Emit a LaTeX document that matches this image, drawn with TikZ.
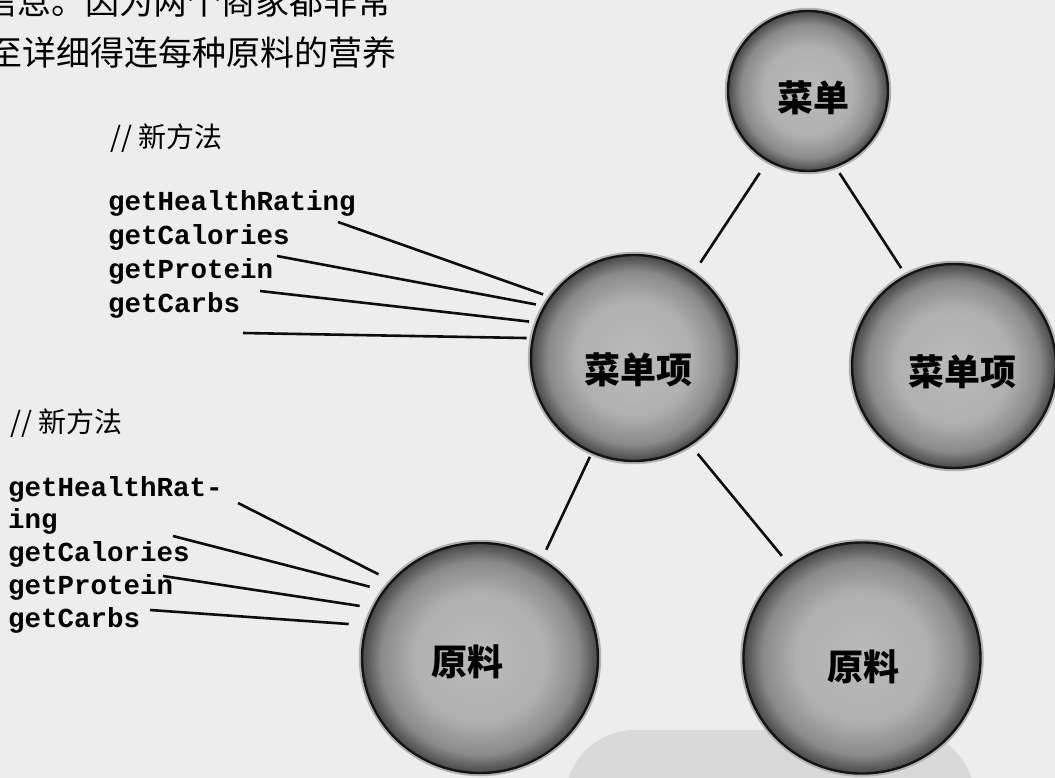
\documentclass[tikz,border=0pt]{standalone}
\usepackage{fontspec}
\setmonofont{Liberation Mono}
\newfontfamily\cjk{Noto Sans CJK SC}
\usetikzlibrary{positioning,shapes.geometric}
\pgfdeclareradialshading{ballgray}{\pgfpoint{0bp}{0bp}}{%
  color(0bp)=(black!27); color(14bp)=(black!31); color(21bp)=(black!46);
  color(25bp)=(black!72); color(50bp)=(black!72)}

\begin{document}
\begin{tikzpicture}[x=1pt,y=-1pt]
  \tikzstyle{ball}=[circle,draw=black!92,line width=2.4pt,shading=ballgray,preaction={draw=black!30,line width=6.5pt},inner sep=0pt]
  \tikzstyle{egg}=[ball,ellipse]
  \tikzstyle{lbl}=[font=\cjk\bfseries\fontsize{36}{36}\selectfont,inner sep=0pt]
  \tikzstyle{meth}=[font=\ttfamily\bfseries\fontsize{27.5}{33}\selectfont,inner sep=0pt,text height=18pt,text depth=6pt]
  \tikzstyle{note}=[font=\cjk\fontsize{28}{28}\selectfont,inner sep=0pt,anchor=west]
  \tikzstyle{prose}=[font=\cjk\fontsize{34}{34}\selectfont,inner sep=0pt,anchor=east]
  \tikzstyle{link}=[line width=2.6pt,black!95]
  \useasboundingbox (0,0) rectangle (1055,778);
  \clip (0,0) rectangle (1055,778);
  \fill[black!7] (0,0) rectangle (1055,778);
  % shadow under the right ingredient
  \fill[black!15,rounded corners=70pt] (565,730) rectangle (975,860);

  % text running in from the page
  \node[prose] (txt1) at (392,1) {信息。因为两个商家都非常};
  \node[prose] (txt2) at (397,53) {甚至详细得连每种原料的营养};

  % the tree
  \node[ball,minimum size=160pt,label={[lbl,xshift=5pt,yshift=-7pt]center:菜单}] (menu) at (808,91) {};
  \node[ball,minimum size=206pt,label={[lbl,xshift=4pt,yshift=-12pt]center:菜单项}] (itemL) at (634,358) {};
  \node[ball,minimum size=204pt,label={[lbl,xshift=8pt,yshift=-6pt]center:菜单项}] (itemR) at (954,366) {};
  \node[egg,minimum width=236pt,minimum height=230pt,label={[lbl,xshift=-13pt,yshift=-4pt]center:原料}] (ingL) at (480,658) {};
  \node[egg,minimum width=237pt,minimum height=231pt,label={[lbl,xshift=1pt,yshift=-9pt]center:原料}] (ingR) at (862,658) {};
  \draw[link,shorten <=14pt,shorten >=12pt] (menu.240) -- (itemL.55);
  \draw[link,shorten <=7pt,shorten >=8pt] (menu.290) -- (itemR.118);
  \draw[link,shorten <=4pt,shorten >=10pt] (itemL.246) -- (ingL.58);
  \draw[link,shorten <=11pt,shorten >=12pt] (itemL.303) -- (ingR.128);

  % new methods on the menu item
  \node[note] (newA) at (110,138) {// 新方法};
  \node[meth,anchor=west] (hrA) at (108,205) {getHealthRating};
  \node[meth,below right=9.5pt and 0pt of hrA.south west] (calA) {getCalories};
  \node[meth,below right=9.5pt and 0pt of calA.south west] (protA) {getProtein};
  \node[meth,below right=9.5pt and 0pt of protA.south west] (carbA) {getCarbs};
  \coordinate (hrAend) at (338,222);
  \coordinate (calAend) at (277,256);
  \coordinate (protAend) at (260,291);
  \coordinate (carbAend) at (243,333);
  \draw[link,shorten >=7pt] (hrAend) -- (itemL.144);
  \draw[link,shorten >=8pt] (calAend) -- (itemL.150);
  \draw[link,shorten >=7pt] (protAend) -- (itemL.160);
  \draw[link,shorten >=5pt] (carbAend) -- (itemL.169);

  % new methods on the ingredient
  \node[note] (newB) at (10,423) {// 新方法};
  \node[meth,anchor=west] (hrB) at (8,490) {getHealthRat-};
  \node[meth,below right=8.5pt and 0pt of hrB.south west] (tailB) {ing};
  \node[meth,below right=8.5pt and 0pt of tailB.south west] (calB) {getCalories};
  \node[meth,below right=8.5pt and 0pt of calB.south west] (protB) {getProtein};
  \node[meth,below right=8.5pt and 0pt of protB.south west] (carbB) {getCarbs};
  \coordinate (hrBend) at (238,503);
  \coordinate (calBend) at (173,536);
  \coordinate (protBend) at (163,576);
  \coordinate (carbBend) at (150,610);
  \draw[link,shorten >=14pt] (hrBend) -- (ingL.139);
  \draw[link,shorten >=14pt] (calBend) -- (ingL.145);
  \draw[link,shorten >=13pt] (protBend) -- (ingL.155);
  \draw[link,shorten >=17pt] (carbBend) -- (ingL.164);
\end{tikzpicture}
\end{document}
